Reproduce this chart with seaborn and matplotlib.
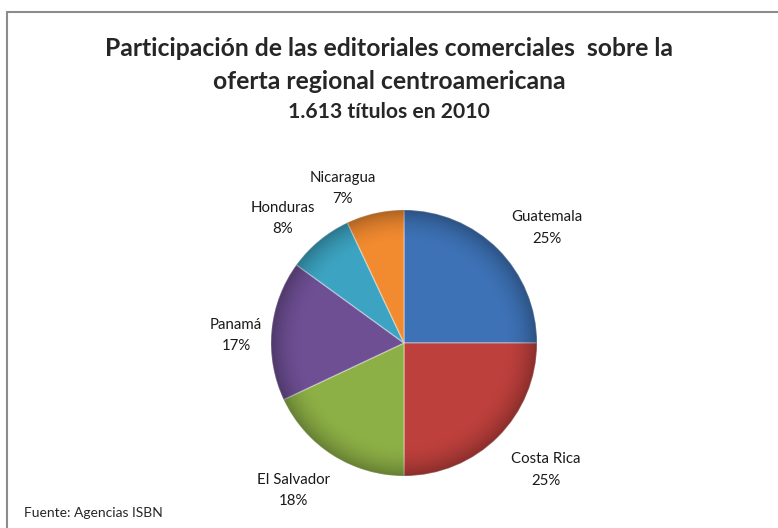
import numpy as np
import seaborn as sns
import matplotlib.pyplot as plt
from matplotlib.patches import Circle
from matplotlib.transforms import ScaledTranslation

paises = ["Guatemala", "Costa Rica", "El Salvador", "Panamá", "Honduras", "Nicaragua"]
porcentajes = [25, 25, 18, 17, 8, 7]
colores = ["#3D72B6", "#BE403C", "#8DB046", "#6E4F94", "#3CA4C2", "#F28A30"]

titulo = "Participación de las editoriales comerciales  sobre la\noferta regional centroamericana"
subtitulo = "1.613 títulos en 2010"
fuente = "Fuente: Agencias ISBN"

sns.set_style("white")
plt.rcParams['font.family'] = ['Lato', 'DejaVu Sans']

fig = plt.figure(figsize=(7.78, 5.28), dpi=100)

# marco gris (solo arriba e izquierda)
fig.add_artist(plt.Line2D([7 / 778, 1], [1 - 12 / 528, 1 - 12 / 528], color="#8c8c8c", lw=1.5))
fig.add_artist(plt.Line2D([7 / 778, 7 / 778], [0, 1 - 12 / 528], color="#8c8c8c", lw=1.5))

r = 133
cx, cy = 404, 528 - 343
ax = fig.add_axes([(cx - r) / 778, (cy - r) / 528, 2 * r / 778, 2 * r / 528])

etiquetas = [f"{p}\n{v}%" for p, v in zip(paises, porcentajes)]
wedges, texts = ax.pie(porcentajes, labels=etiquetas, colors=colores, startangle=90,
                       counterclock=False, labeldistance=1.1,
                       wedgeprops=dict(edgecolor=(1, 1, 1, 0.35), linewidth=1),
                       textprops=dict(fontsize=10.8, color="#1a1a1a", linespacing=1.65))
# alinear cada etiqueta por el borde de su caja más cercano al círculo
desplazamiento = ScaledTranslation(0.04, -0.06, fig.dpi_scale_trans)
for w, t in zip(wedges, texts):
    ang = np.deg2rad((w.theta1 + w.theta2) / 2)
    c, s = np.cos(ang), np.sin(ang)
    t.set_ha("left" if c > 0.2 else ("right" if c < -0.2 else "center"))
    t.set_va("bottom" if s > 0.3 else ("top" if s < -0.3 else "center"))
    t.set_multialignment("center")
    t.set_transform(ax.transData + desplazamiento)
ax.set_xlim(-1, 1)
ax.set_ylim(-1, 1)

# sombreado radial para el efecto de relieve
n = 400
g = np.linspace(-1, 1, n)
xx, yy = np.meshgrid(g, g)
rr = np.sqrt(xx ** 2 + yy ** 2)
shade = np.zeros((n, n, 4))
shade[..., 3] = np.clip((rr - 0.75) / 0.25, 0, 1) ** 2 * 0.28
im = ax.imshow(shade, extent=(-1, 1, -1, 1), zorder=3, interpolation="bilinear")
im.set_clip_path(Circle((0, 0), 1, transform=ax.transData))

fig.text(389 / 778, 1 - 65 / 528, titulo, ha="center", va="center", fontsize=17.8,
         fontweight="bold", linespacing=1.5)
fig.text(389 / 778, 1 - 112 / 528, subtitulo, ha="center", va="center", fontsize=15.2,
         fontweight="bold")
fig.text(24 / 778, 1 - 513 / 528, fuente, ha="left", va="center", fontsize=10)

fig.savefig("out.png", dpi=100)
